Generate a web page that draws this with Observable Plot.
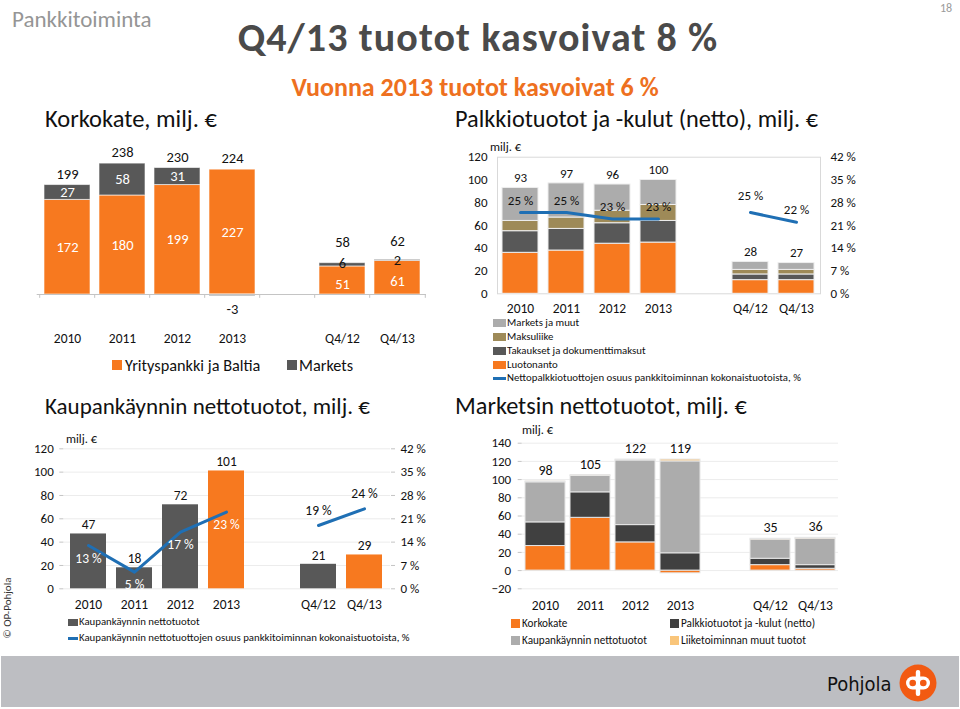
<!DOCTYPE html>
<html><head><meta charset="utf-8">
<script src="https://cdn.jsdelivr.net/npm/d3@7"></script>
<script src="https://cdn.jsdelivr.net/npm/@observablehq/plot@0.6"></script>
<style>
body{margin:0;background:#fff;}
#page{position:relative;width:960px;height:709px;overflow:hidden;font-family:Carlito,Lato,"Open Sans",sans-serif;color:#111;background:#fff;}
.t{position:absolute;line-height:0;white-space:nowrap;}
.chart{position:absolute;}
.sw{position:absolute;}
</style></head><body><div id="page"></div>
<script>
// ---------- shared categories ----------
const periods = ["2010","2011","2012","2013","Q4/12","Q4/13"];
const xDomain = ["2010","2011","2012","2013","","Q4/12","Q4/13"]; // "" = gap slot
const ticks120 = [0,20,40,60,80,100,120];
const pctMax = 42;

// ---------- Korkokate ----------
const korkoSeries = ["Yrityspankki ja Baltia","Markets"];
const korkoYritys = [172,180,199,227,51,61];
const korkoMarkets = [27,58,31,-3,6,2];
const korkoTotals = [199,238,230,224,58,62];

// ---------- Palkkiotuotot ----------
const palkkioSeries = ["Luotonanto","Takaukset ja dokumenttimaksut","Maksuliike","Markets ja muut"];
const palkkioLuotonanto = [36,38,44,45,12,12];
const palkkioTakaukset = [19,19,18,19,5,5];
const palkkioMaksuliike = [9,10,11,14,4,4];
const palkkioMarkets = [29,30,23,22,7,6];
const palkkioTotals = [93,97,96,100,28,27];
const palkkioShare = [25,25,23,23,25,22];
const palkkioShareLabel = "Nettopalkkiotuottojen osuus pankkitoiminnan kokonaistuotoista, %";

// ---------- Kaupankäynti ----------
const kauppaValues = [47,18,72,101,21,29];
const kauppaShare = [13,5,17,23,19,24];
const kauppaHighlight = ["2013","Q4/13"];
const kauppaLabel = "Kaupankäynnin nettotuotot";
const kauppaShareLabel = "Kaupankäynnin nettotuottojen osuus pankkitoiminnan kokonaistuotoista, %";

// ---------- Markets ----------
const marketsSeries = ["Korkokate","Palkkiotuotot ja -kulut (netto)","Kaupankäynnin nettotuotot","Liiketoiminnan muut tuotot"];
const marketsKorkokate = [27,58,31,-3,6,2];
const marketsPalkkio = [26,28,19,19,7,4];
const marketsKauppa = [44,18,71,101,21,29];
const marketsMuut = [1,1,1,2,1,1];
const marketsTotals = [98,105,122,119,35,36];
const marketsTicks = [-20,0,20,40,60,80,100,120,140];

// ---------- styling ----------
const FONT = 'Carlito, Lato, "Open Sans", sans-serif';
const ORANGE = "#f7791f";
const DARK = "#585858";
const DARKER = "#404040";
const LIGHT = "#acacac";
const TAN = "#9e8a58";
const CREAM = "#f9c57a";
const BLUE = "#1f6fb4";
const AXISGRAY = "#c4c4c4";

const page = document.getElementById("page");
function txt(s, x, y, size, o = {}) {
  const d = document.createElement("div");
  d.className = "t";
  d.textContent = s;
  d.style.left = x + "px";
  d.style.top = y + "px";
  d.style.fontSize = size + "px";
  if (o.color) d.style.color = o.color;
  if (o.bold) d.style.fontWeight = "bold";
  if (o.ls) d.style.letterSpacing = o.ls + "px";
  if (o.center) d.style.transform = "translateX(-50%)";
  if (o.font) d.style.fontFamily = o.font;
  if (o.rotate) { d.style.transform = "translate(-50%,0) rotate(-90deg)"; }
  page.appendChild(d);
  return d;
}
function swatch(x, y, w, h, color) {
  const d = document.createElement("div");
  d.className = "sw";
  d.style.left = x + "px"; d.style.top = (y - h / 2) + "px";
  d.style.width = w + "px"; d.style.height = h + "px";
  d.style.background = color;
  page.appendChild(d);
}
function place(svg, left, top) {
  const d = document.createElement("div");
  d.className = "chart";
  d.style.left = left + "px"; d.style.top = top + "px";
  d.appendChild(svg);
  page.appendChild(d);
}
const baseStyle = {fontFamily: FONT, background: "transparent", overflow: "visible", color: "#111"};

// ---------- header ----------
txt("Pankkitoiminta", 12, 19, 23, {color: "#959595"});
txt("18", 940, 8, 12, {color: "#9a9a9a"});
txt("Q4/13 tuotot kasvoivat 8 %", 478, 38, 40, {bold: true, center: true, color: "#4a4a4a", ls: 1.1});
txt("Vuonna 2013 tuotot kasvoivat 6 %", 475, 87, 26, {bold: true, center: true, color: "#ee7020"});
txt("Korkokate, milj. €", 45, 119, 24.5);
txt("Palkkiotuotot ja -kulut (netto), milj. €", 455, 119, 24.3);
txt("Kaupankäynnin nettotuotot, milj. €", 45, 406, 23);
txt("Marketsin nettotuotot, milj. €", 455, 406, 24.3);

// ---------- chart 1: Korkokate ----------
{
  const W = 420, H = 220, ml = 16.7, mr = 14;
  const step = (W - ml - mr) / xDomain.length;
  const rows = periods.flatMap((p, i) => [
    {period: p, series: korkoSeries[0], value: korkoYritys[i]},
    {period: p, series: korkoSeries[1], value: korkoMarkets[i]}
  ]);
  const tots = periods.map((p, i) => ({period: p, total: korkoTotals[i], m: korkoMarkets[i],
    top: korkoYritys[i] + Math.max(0, korkoMarkets[i])}));
  const pushed = d => d.m >= 5 && d.m < 10;
  const small = d => d.m > 0 && d.m < 5;
  const base = d => d.series === korkoSeries[0];
  const svg = Plot.plot({
    width: W, height: H, marginLeft: ml, marginRight: mr, marginTop: 26.5, marginBottom: 34,
    style: baseStyle,
    x: {domain: xDomain, paddingInner: 0.17, paddingOuter: 0.085},
    y: {domain: [-40, 250], axis: null},
    color: {domain: korkoSeries, range: [ORANGE, DARK]},
    marks: [
      Plot.barY(rows, {x: "period", y: "value", fill: "series", stroke: "#ffffff", strokeOpacity: 0.6, strokeWidth: 1}),
      Plot.ruleY([0], {stroke: AXISGRAY}),
      Plot.ruleX(xDomain, {x: d => d, y1: 0, y2: -7, dx: -step / 2, stroke: AXISGRAY}),
      Plot.ruleX(xDomain.slice(-1), {x: d => d, y1: 0, y2: -7, dx: step / 2, stroke: AXISGRAY}),
      // large segment labels (white)
      Plot.text(rows, Plot.stackY({x: "period", y: "value",
        text: d => (d.value >= 10 && !(base(d) && d.value < 100) ? d.value : ""), fill: "white", fontSize: 14.5})),
      // short base segments: label sits a bit lower
      Plot.text(rows, Plot.stackY({x: "period", y: "value",
        text: d => (base(d) && d.value < 100 ? d.value : ""), fill: "white", fontSize: 14.5, dy: 4})),
      // small segments (black)
      Plot.text(rows, Plot.stackY({x: "period", y: "value",
        text: d => (d.value >= 5 && d.value < 10 ? d.value : ""), fill: "#111", fontSize: 14.5, dy: -1})),
      Plot.text(rows, Plot.stackY({x: "period", y: "value",
        text: d => (d.value > 0 && d.value < 5 ? d.value : ""), fill: "#111", fontSize: 14.5, dy: 0})),
      Plot.text(rows.filter(d => d.value < 0), {x: "period", y: "value", text: "value", dy: 13, fill: "#111", fontSize: 14.5}),
      Plot.text(tots.filter(d => !pushed(d) && !small(d)), {x: "period", y: "top", text: "total", dy: -11, fill: "#111", fontSize: 14.5}),
      Plot.text(tots.filter(small), {x: "period", y: "top", text: "total", dy: -18, fill: "#111", fontSize: 14.5}),
      Plot.text(tots.filter(pushed), {x: "period", y: "top", text: "total", dy: -21, fill: "#111", fontSize: 14.5}),
      Plot.axisX({tickSize: 0, tickPadding: 17, fontSize: 13.5, label: null, tickFormat: d => d})
    ]
  });
  place(svg, 20, 130);
  swatch(112, 365, 10, 10, ORANGE);
  txt(korkoSeries[0], 125, 365, 16.3);
  swatch(287, 365, 10, 10, DARK);
  txt(korkoSeries[1], 299, 365, 16.3);
}

// ---------- chart 2: Palkkiotuotot ----------
{
  const cols = [palkkioLuotonanto, palkkioTakaukset, palkkioMaksuliike, palkkioMarkets];
  const colors = [ORANGE, DARK, TAN, LIGHT];
  const rows = periods.flatMap((p, i) => palkkioSeries.map((s, k) => ({period: p, series: s, value: cols[k][i]})));
  const tots = periods.map((p, i) => ({period: p, total: palkkioTotals[i], top: cols.reduce((a, c) => a + c[i], 0)}));
  const line = periods.map((p, i) => ({period: p, share: palkkioShare[i], group: i < 4 ? "v" : "q"}));
  const toY = d => d.share / pctMax * 120;
  const svg = Plot.plot({
    width: 430, height: 180, marginLeft: 57, marginRight: 50, marginTop: 16.7, marginBottom: 26.7,
    style: baseStyle,
    x: {domain: xDomain, paddingInner: 0.21, paddingOuter: 0.105},
    y: {domain: [0, 120]},
    color: {domain: palkkioSeries, range: colors},
    marks: [
      Plot.frame({stroke: "#d9d9d9"}),
      Plot.barY(rows, {x: "period", y: "value", fill: "series", stroke: "#eeeeee", strokeWidth: 1}),
      Plot.line(line, {x: "period", y: toY, z: "group", stroke: BLUE, strokeWidth: 3}),
      Plot.text(tots, {x: "period", y: "top", text: "total", dy: -10, fontSize: 13, fill: "#111"}),
      Plot.text(line.filter(d => d.period !== "Q4/12"), {x: "period", y: toY, text: d => d.share + " %", dy: -12, fontSize: 13, fill: "#111"}),
      Plot.text(line.filter(d => d.period === "Q4/12"), {x: "period", y: toY, text: d => d.share + " %", dy: -17, fontSize: 13, fill: "#111"}),
      Plot.axisX({tickSize: 0, tickPadding: 10, fontSize: 13.5, label: null, tickFormat: d => d}),
      Plot.axisY({ticks: ticks120, tickSize: 0, tickPadding: 10, fontSize: 13, label: null}),
      Plot.axisY({anchor: "right", ticks: ticks120, tickSize: 0, tickPadding: 10, fontSize: 13, label: null,
        tickFormat: d => `${d / 120 * pctMax} %`})
    ]
  });
  place(svg, 440, 140);
  txt("milj. €", 490, 147, 12.5);
  const ly = [323, 336.5, 350.5, 364.5];
  [3, 2, 1, 0].forEach((k, j) => {
    swatch(493, ly[j], 13, 8, colors[k]);
    txt(palkkioSeries[k], 507, ly[j], 10.8);
  });
  swatch(493, 378, 13, 3, BLUE);
  txt(palkkioShareLabel, 507, 378, 10.8);
}

// ---------- chart 3: Kaupankäynti ----------
{
  const rows = periods.map((p, i) => ({period: p, value: kauppaValues[i], share: kauppaShare[i],
    hl: kauppaHighlight.includes(p) ? "h" : "n", group: i < 4 ? "v" : "q"}));
  const toY = d => d.share / pctMax * 120;
  const svg = Plot.plot({
    width: 420, height: 190, marginLeft: 43.3, marginRight: 50, marginTop: 23.3, marginBottom: 26.7,
    style: baseStyle,
    x: {domain: xDomain, paddingInner: 0.21, paddingOuter: 0.105},
    y: {domain: [0, 120]},
    color: {domain: ["n", "h"], range: [DARK, ORANGE]},
    marks: [
      Plot.gridY(ticks120, {stroke: "#ececec", strokeOpacity: 1}),
      Plot.barY(rows, {x: "period", y: "value", fill: "hl"}),
      Plot.line(rows, {x: "period", y: toY, z: "group", stroke: BLUE, strokeWidth: 3}),
      Plot.text(rows, {x: "period", y: "value", text: "value", dy: -9, fontSize: 13.5, fill: "#111"}),
      Plot.text(rows.filter(d => d.group === "v"), {x: "period", y: toY, text: d => d.share + " %", dy: 13, fontSize: 13.5, fill: "white"}),
      Plot.text(rows.filter(d => d.group === "q"), {x: "period", y: toY, text: d => d.share + " %", dy: -15, fontSize: 13.5, fill: "#111"}),
      Plot.axisX({tickSize: 0, tickPadding: 11, fontSize: 13.5, label: null, tickFormat: d => d}),
      Plot.axisY({ticks: ticks120, tickSize: 4, tickPadding: 6, fontSize: 13, label: null, line: true, stroke: AXISGRAY, fill: "#111"}),
      Plot.axisY({anchor: "right", ticks: ticks120, tickSize: 4, tickPadding: 6, fontSize: 13, label: null, line: true,
        stroke: AXISGRAY, fill: "#111", tickFormat: d => `${d / 120 * pctMax} %`})
    ]
  });
  place(svg, 20, 425);
  txt("milj. €", 66, 439, 12.5);
  swatch(68, 622, 10, 7, DARK);
  txt(kauppaLabel, 79, 622, 10.8);
  swatch(68, 638, 10, 3, BLUE);
  txt(kauppaShareLabel, 79, 638, 10.8);
}

// ---------- chart 4: Markets ----------
{
  const cols = [marketsKorkokate, marketsPalkkio, marketsKauppa, marketsMuut];
  const colors = [ORANGE, DARKER, LIGHT, CREAM];
  const rows = periods.flatMap((p, i) => marketsSeries.map((s, k) => ({period: p, series: s, value: cols[k][i]})));
  const tots = periods.map((p, i) => ({period: p, total: marketsTotals[i],
    top: cols.reduce((a, c) => a + Math.max(0, c[i]), 0)}));
  const svg = Plot.plot({
    width: 400, height: 195, marginLeft: 71.7, marginRight: 12, marginTop: 22.7, marginBottom: 26.7,
    style: baseStyle,
    x: {domain: xDomain, paddingInner: 0.12, paddingOuter: 0.06},
    y: {domain: [-20, 140]},
    color: {domain: marketsSeries, range: colors},
    marks: [
      Plot.gridY(marketsTicks, {stroke: "#ececec", strokeOpacity: 1}),
      Plot.barY(rows, {x: "period", y: "value", fill: "series", stroke: "#e6e6e6", strokeWidth: 1}),
      Plot.text(tots, {x: "period", y: "top", text: "total", dy: -11, fontSize: 14, fill: "#111"}),
      Plot.axisX({tickSize: 0, tickPadding: 12, fontSize: 13.5, label: null, tickFormat: d => d}),
      Plot.axisY({ticks: marketsTicks, tickSize: 4, tickPadding: 7, fontSize: 13, label: null, line: true, stroke: AXISGRAY, fill: "#111"})
    ]
  });
  place(svg, 450, 420);
  txt("milj. €", 522, 430, 12.5);
  const lx = [511, 670], lyy = [623, 640];
  marketsSeries.forEach((s, k) => {
    const x = lx[k % 2 === 0 ? 0 : 1], y = lyy[k < 2 ? 0 : 1];
    swatch(x, y, 9, 9, colors[k]);
    txt(s, x + 11, y, 11.2);
  });
}

// ---------- footer ----------
{
  const band = document.createElement("div");
  band.style.cssText = "position:absolute;left:1px;top:656px;width:958px;height:51px;background:#bdbec2;";
  page.appendChild(band);
  txt("Pohjola", 827, 684, 20, {font: '"DejaVu Sans Condensed","DejaVu Sans",sans-serif', color: "#111"});
  const logo = document.createElement("div");
  logo.style.cssText = "position:absolute;left:899px;top:664px;width:38px;height:38px;";
  logo.innerHTML = '<svg width="38" height="38" viewBox="-19 -19 38 38"><circle r="18.5" fill="#f25a12"/>' +
    '<rect x="-2.2" y="-13" width="4.4" height="26" rx="2" fill="#fff"/>' +
    '<rect x="-12" y="-6.5" width="24" height="13" rx="6.5" fill="#fff"/>' +
    '<circle cx="-5.3" cy="0" r="3.3" fill="#f25a12"/><circle cx="5.3" cy="0" r="3.3" fill="#f25a12"/></svg>';
  page.appendChild(logo);
  txt("© OP-Pohjola", 8, 608, 11, {rotate: true, color: "#333"});
}
</script></body></html>
